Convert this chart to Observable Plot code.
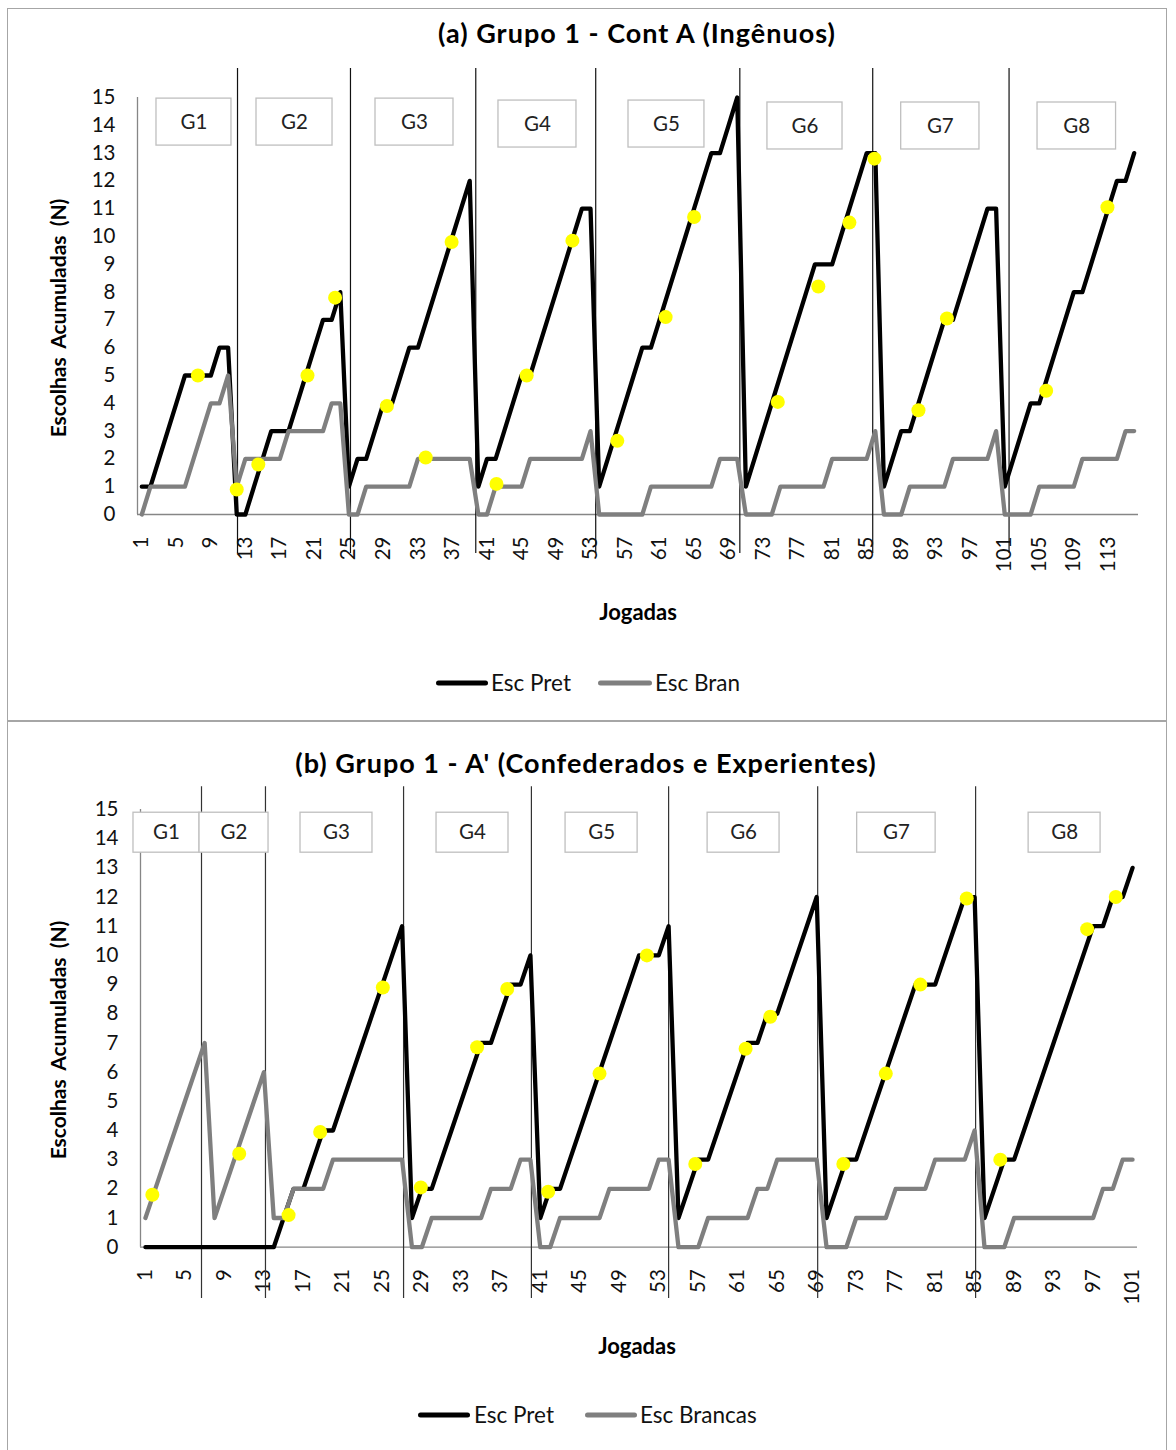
<!DOCTYPE html>
<html><head><meta charset="utf-8">
<script src="https://cdn.jsdelivr.net/npm/d3@7"></script>
<script src="https://cdn.jsdelivr.net/npm/@observablehq/plot@0.6"></script>
<style>
body{margin:0;width:1176px;height:1450px;position:relative;background:#fff;font-family:Lato,"Open Sans",sans-serif;overflow:hidden}
.frame{position:absolute;border:1px solid #a6a6a6;box-sizing:border-box}
.t{position:absolute;white-space:nowrap;transform:translate(-50%,-50%);color:#000;line-height:1}
.b{font-weight:bold}
.ti{font-size:27px;letter-spacing:1px}
.yl{position:absolute;white-space:nowrap;transform:translate(-50%,-50%) rotate(-90deg);font-weight:bold;font-size:21px;line-height:1;word-spacing:4px}
.sw{position:absolute;height:5px;border-radius:3px;transform:translateY(-50%)}
.lt{position:absolute;white-space:nowrap;transform:translateY(-50%);font-size:22.5px;line-height:1;color:#111}
.plot{position:absolute;left:0}
</style></head><body>
<div class="frame" style="left:7px;top:8px;width:1160px;height:713px"></div>
<div class="frame" style="left:7px;top:721px;width:1160px;height:740px"></div>
<div class="t b ti" style="left:637px;top:32px">(a) Grupo 1 - Cont A (Ingênuos)</div>
<div class="t b ti" style="left:586px;top:762px">(b) Grupo 1 - A' (Confederados e Experientes)</div>
<div class="yl" style="left:57px;top:318px">Escolhas Acumuladas (N)</div>
<div class="yl" style="left:57px;top:1040px">Escolhas Acumuladas (N)</div>
<div class="t b" style="left:638px;top:612px;font-size:22px">Jogadas</div>
<div class="t b" style="left:637px;top:1346px;font-size:22px">Jogadas</div>
<div class="sw" style="left:436px;top:683px;width:52px;background:#000"></div>
<div class="lt" style="left:491px;top:683px">Esc Pret</div>
<div class="sw" style="left:598px;top:683px;width:54px;background:#7f7f7f"></div>
<div class="lt" style="left:655px;top:683px">Esc Bran</div>
<div class="sw" style="left:418px;top:1415px;width:52px;background:#000"></div>
<div class="lt" style="left:474px;top:1415px">Esc Pret</div>
<div class="sw" style="left:585px;top:1415px;width:52px;background:#7f7f7f"></div>
<div class="lt" style="left:640px;top:1415px">Esc Brancas</div>
<div id="pa" class="plot" style="top:60px"></div>
<div id="pb" class="plot" style="top:780px"></div>
<script>
// ---------- Panel (a): Grupo 1 - Cont A (Ingênuos) ----------
const playsA = d3.range(1, 117);
const pretA = [
  1,1,2,3,4,5,5,5,5,6,6,
  0,0,1,2,3,3,3,4,5,6,7,7,8,
  1,2,2,3,4,4,5,6,6,7,8,9,10,11,12,
  1,2,2,3,4,5,5,6,7,8,9,10,11,11,
  1,2,3,4,5,6,6,7,8,9,10,11,12,13,13,14,15,
  1,2,3,4,5,6,7,8,9,9,9,10,11,12,13,13,
  1,2,3,3,4,5,6,7,7,8,9,10,11,11,
  1,2,3,4,4,5,6,7,8,8,9,10,11,12,12,13
];
const branA = [
  0,1,1,1,1,1,2,3,4,4,5,
  1,2,2,2,2,2,3,3,3,3,3,4,4,
  0,0,1,1,1,1,1,1,2,2,2,2,2,2,2,
  0,0,1,1,1,1,2,2,2,2,2,2,2,3,
  0,0,0,0,0,0,1,1,1,1,1,1,1,1,2,2,2,
  0,0,0,0,1,1,1,1,1,1,2,2,2,2,2,3,
  0,0,0,1,1,1,1,1,2,2,2,2,2,3,
  0,0,0,0,1,1,1,1,1,2,2,2,2,2,3,3
];
const yellowA = [[7.5,5],[12,0.9],[14.5,1.8],[20.2,5],[23.4,7.8],[29.4,3.9],[33.9,2.05],[36.9,9.8],
  [42.1,1.1],[45.6,5],[50.9,9.85],[56.1,2.65],[61.7,7.1],[65,10.7],[74.7,4.05],[79.4,8.2],[83,10.5],
  [85.9,12.8],[91,3.75],[94.3,7.05],[105.8,4.45],[112.9,11.05]];
const sepA = [12.09, 25.18, 39.7, 53.6, 70.3, 85.7, 101.5];
const groupsA = ["G1","G2","G3","G4","G5","G6","G7","G8"];
const boxX1A = [2.7, 14.29, 28.08, 42.33, 57.4, 73.5, 89.0, 104.8];
const boxX2A = [11.39, 23.1, 37.12, 51.37, 66.2, 82.2, 98.07, 113.9];
const boxTopA = [14.96, 14.96, 14.96, 14.89, 14.89, 14.82, 14.82, 14.82];
const boxBotA = [13.27, 13.27, 13.27, 13.2, 13.2, 13.13, 13.13, 13.13];
const ticksA = d3.range(1, 117, 4);

// ---------- Panel (b): Grupo 1 - A' (Confederados e Experientes) ----------
const playsB = d3.range(1, 102);
const pretB = [
  0,0,0,0,0,0,0,0,0,0,0,0,0,
  0,1,2,2,3,4,4,5,6,7,8,9,10,11,
  1,2,2,3,4,5,6,7,7,8,9,9,10,
  1,2,2,3,4,5,6,7,8,9,10,10,10,11,
  1,2,3,3,4,5,6,7,7,8,8,9,10,11,12,
  1,2,3,3,4,5,6,7,8,9,9,9,10,11,12,12,
  1,2,3,3,4,5,6,7,8,9,10,11,11,12,12,13
];
const brancasB = [
  1,2,3,4,5,6,7,
  1,2,3,4,5,6,
  1,1,2,2,2,2,3,3,3,3,3,3,3,3,
  0,0,1,1,1,1,1,1,2,2,2,3,3,
  0,0,1,1,1,1,1,2,2,2,2,2,3,3,
  0,0,0,1,1,1,1,1,2,2,3,3,3,3,3,
  0,0,0,1,1,1,1,2,2,2,2,3,3,3,3,4,
  0,0,0,1,1,1,1,1,1,1,1,1,2,2,3,3
];
const yellowB = [[1.7,1.8],[10.5,3.2],[15.5,1.1],[18.7,3.95],[25.05,8.9],[28.9,2.05],[34.6,6.85],
  [37.65,8.85],[41.8,1.9],[47,5.95],[51.8,10],[56.7,2.85],[61.8,6.8],[64.3,7.9],[71.7,2.85],[76,5.95],
  [79.5,9],[84.2,11.95],[87.6,3],[96.4,10.9],[99.3,12]];
const sepB = [6.68, 13.16, 27.15, 40.1, 54.0, 69.1, 85.1];
const groupsB = ["G1","G2","G3","G4","G5","G6","G7","G8"];
const boxX1B = [-0.21, 6.48, 16.71, 30.49, 43.56, 57.95, 73.1, 90.47];
const boxX2B = [6.48, 13.47, 24.0, 37.78, 50.86, 65.24, 81.05, 97.76];
const boxTopB = [14.89, 14.89, 14.89, 14.89, 14.89, 14.89, 14.89, 14.89];
const boxBotB = [13.52, 13.52, 13.52, 13.52, 13.52, 13.52, 13.52, 13.52];
const ticksB = d3.range(1, 102, 4);

function makePanel(o) {
  const rows = o.plays.map((p, i) => ({play: p, pret: o.pret[i], bran: o.bran[i]}));
  const boxes = o.groups.map((g, i) => ({g, x1: o.bx1[i], x2: o.bx2[i], y1: o.bbot[i], y2: o.btop[i]}));
  const dots = o.yellow.map(([x, y]) => ({x, y}));
  const n = o.plays.length;
  return Plot.plot({
    width: 1176, height: o.height,
    marginLeft: o.ml, marginRight: o.mr, marginTop: o.mt, marginBottom: o.mb,
    style: {fontFamily: "Lato, 'Open Sans', sans-serif", fontSize: "20.5px", color: "#111", overflow: "visible", background: "transparent"},
    x: {domain: [0.5, n + 0.5], ticks: o.ticks, tickFormat: d => String(d), tickRotate: -90, tickSize: 0, tickPadding: 22, label: null},
    y: {domain: [0, 15], ticks: d3.range(0, 16), tickFormat: d => String(d), tickSize: 0, tickPadding: 22, label: null},
    marks: [
      Plot.ruleY([0], {x1: 0.5, x2: n + 0.5, stroke: "#868686", strokeWidth: 1.3}),
      Plot.ruleX([0.5], {y1: 0, y2: 15, stroke: "#868686", strokeWidth: 1.3}),
      Plot.ruleX(o.seps, {y1: o.sy1, y2: o.sy2, stroke: o.sepColor, strokeWidth: 1.2}),
      Plot.rect(boxes, {x1: "x1", x2: "x2", y1: "y1", y2: "y2", fill: "white", stroke: "#bfbfbf", strokeWidth: 1.3}),
      Plot.text(boxes, {x: d => (d.x1 + d.x2) / 2, y: d => (d.y1 + d.y2) / 2, text: "g", fontSize: 20.5, fill: "#222"}),
      Plot.line(rows, {x: "play", y: "pret", stroke: "#000", strokeWidth: 4.3, strokeLinejoin: "round", strokeLinecap: "round"}),
      Plot.line(rows, {x: "play", y: "bran", stroke: "#7f7f7f", strokeWidth: 4.3, strokeLinejoin: "round", strokeLinecap: "round"}),
      Plot.dot(dots, {x: "x", y: "y", r: 7, fill: "#ffff00", stroke: "none"})
    ]
  });
}

document.getElementById("pa").appendChild(makePanel({
  plays: playsA, pret: pretA, bran: branA, yellow: yellowA, seps: sepA,
  groups: groupsA, bx1: boxX1A, bx2: boxX2A, btop: boxTopA, bbot: boxBotA, ticks: ticksA,
  height: 570, ml: 137, mr: 38, mt: 37, mb: 116, sy1: -1.4, sy2: 16.04, sepColor: "#111"
}));
document.getElementById("pb").appendChild(makePanel({
  plays: playsB, pret: pretB, bran: brancasB, yellow: yellowB, seps: sepB,
  groups: groupsB, bx1: boxX1B, bx2: boxX2B, btop: boxTopB, bbot: boxBotB, ticks: ticksB,
  height: 560, ml: 140, mr: 39, mt: 29, mb: 93.3, sy1: -1.76, sy2: 15.78, sepColor: "#333"
}));
</script>
</body></html>
